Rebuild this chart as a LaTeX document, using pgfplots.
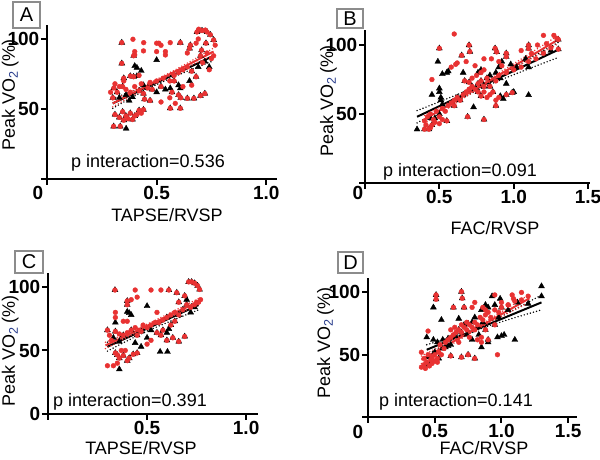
\documentclass[border=0pt]{standalone}
\usepackage{pgfplots}
\pgfplotsset{compat=1.18}
\usepackage{pgfplotstable}
\usepackage{fontspec}
\setmainfont{Liberation Sans}
\definecolor{myred}{RGB}{232,50,50}
\definecolor{subblue}{RGB}{40,60,140}
\definecolor{boxgray}{RGB}{140,140,140}

\pgfplotsset{
  panel/.style={scale only axis, axis lines=left, axis line style={-, line width=2.2pt},
    xmin=0, ymin=0, ytick={0,50,100}, yticklabels={,\textbf{50},\textbf{100}},
    tick style={line width=2pt, black}, major tick length=6pt, tick align=outside,
    ticklabel style={font=\fontsize{19}{19}\selectfont, inner sep=1.5pt},
    clip=false, anchor=south west},
  tri/.style={only marks, mark=triangle*, mark size=3.4pt, black},
  red/.style={only marks, mark=*, mark size=2.4pt, myred},
  bl/.style={black, line width=2pt},
  rl/.style={myred, line width=2pt},
  bd/.style={black, line width=1.6pt, line cap=round, dash pattern=on 0pt off 3.2pt},
  rd/.style={myred, line width=1.6pt, line cap=round, dash pattern=on 0pt off 3.2pt},
}

% ---------------- Panel A data ----------------
\pgfplotstableread{
x y
0.341 97.4
0.608 97.4
0.684 105
0.707 106
0.730 105
0.745 103
0.760 99.3
0.654 95.6
0.650 93.3
0.40 80.7
0.41 79.5
0.43 77.3
0.50 85
0.341 82.6
0.395 88
0.38 73.5
0.395 73
0.41 73.5
0.305 65
0.32 62
0.33 58
0.345 66
0.36 60
0.375 56
0.39 58.5
0.42 63
0.44 61
0.44 67
0.46 65
0.48 64
0.50 62
0.52 66
0.54 64
0.562 64.8
0.608 64.8
0.57 62
0.60 60
0.562 50.5
0.608 50.5
0.64 57.6
0.67 57.6
0.70 59.5
0.72 61
0.66 77
0.69 80
0.70 88
0.72 84
0.74 80
0.68 73
0.65 70
0.705 92
0.725 97
0.31 46
0.33 44
0.345 48
0.36 45
0.38 47
0.40 45
0.42 49
0.44 49.5
0.35 42
0.37 43
0.39 42.5
0.304 37.6
0.334 37.6
0.361 36
0.30 58
0.35 72
0.445 57
0.47 56
0.58 70
0.60 67
0.61 58
}\Atri
\pgfplotstableread{
x y
0.341 97.4
0.392 99.8
0.441 97.4
0.50 97
0.51 97
0.52 95.5
0.562 97.4
0.608 97.4
0.684 105
0.692 107
0.707 106
0.722 106.4
0.730 105
0.745 103
0.760 99.3
0.767 95.6
0.654 95.6
0.650 93.3
0.40 91
0.40 88.6
0.44 91.5
0.50 91
0.54 91
0.54 88.6
0.341 82.6
0.395 88
0.38 73.5
0.395 73
0.42 74
0.305 65
0.31 68
0.32 62
0.33 66
0.345 66
0.35 70
0.36 64
0.38 62
0.40 66
0.42 63
0.43 68
0.44 61
0.46 65
0.47 69
0.48 64
0.50 70
0.52 66
0.53 72
0.56 70
0.57 62
0.58 74
0.60 76
0.60 60
0.62 78
0.64 57.6
0.64 80
0.66 77
0.67 57.6
0.68 73
0.70 59.5
0.70 88
0.71 83
0.72 61
0.73 90
0.75 86
0.76 88
0.705 92
0.725 97
0.68 97
0.69 100
0.562 50.5
0.608 50.5
0.52 55
0.56 58
0.585 54
0.31 46
0.33 44
0.345 48
0.36 45
0.38 47
0.40 45
0.42 49
0.44 49.5
0.35 42
0.37 43
0.39 42.5
0.41 46
0.43 47
0.304 37.6
0.334 37.6
0.30 58
0.29 62
0.35 72
0.445 57
0.47 56
0.58 70
0.61 58
0.66 67
0.62 66
0.74 78
0.64 90
}\Ared

% ---------------- Panel B data ----------------
\pgfplotstableread{
x y
0.50 97.6
0.70 99.9
0.705 95.2
0.875 97.6
0.885 95
0.95 94
0.95 91.5
1.10 99.9
1.10 97.5
1.30 104
1.30 97
0.35 38.9
0.45 64
0.49 88
0.52 79
0.55 80
0.56 81
0.50 68.6
0.50 66
0.51 62
0.51 60
0.52 57
0.66 80
0.65 92.5
0.76 80
0.78 82
0.84 78
0.88 80
0.91 76
0.78 63
0.76 66
0.95 64
0.99 65.5
1.10 84
1.10 63.8
0.93 61
0.91 63
0.44 47
0.47 47
0.50 50
0.40 39
0.43 39
0.45 42
0.55 45
0.60 56
0.69 48
0.80 46
0.88 56
0.73 55
0.67 74
0.70 73
0.72 70
0.74 68
0.76 72
0.78 74
0.80 70
0.82 76
0.84 70
0.86 66
0.58 58
0.62 62
0.64 60
0.66 64
0.90 84
0.92 88
0.98 86
1.02 84
1.08 90
1.20 94
1.25 96
0.95 72
1.00 66
}\Btri
\pgfplotstableread{
x y
0.60 108
0.50 97.6
0.70 99.9
0.705 95.2
0.875 97.6
0.885 95
0.95 94
0.95 91.5
1.10 99.9
1.10 97.5
1.20 107
1.27 107
1.29 104.8
1.30 104
1.30 97
1.22 101
1.16 100
1.05 96
1.12 94
0.45 75
0.58 84
0.61 86
0.68 88
0.74 85
0.80 90
0.85 90
0.90 88
0.92 85
0.65 92.5
0.62 87
0.40 45
0.42 48
0.44 50
0.46 46
0.48 52
0.50 48
0.52 54
0.54 52
0.56 56
0.58 58
0.60 60
0.62 62
0.64 60
0.66 64
0.68 66
0.70 68
0.72 70
0.74 68
0.76 72
0.78 74
0.80 70
0.82 76
0.84 70
0.86 66
0.88 74
0.90 78
0.95 80
1.00 82
1.05 84
1.10 88
1.15 90
1.20 94
1.25 98
0.67 74
0.70 73
0.76 66
0.78 63
0.80 66
0.82 62
0.84 64
0.88 60
0.90 62
0.40 39
0.43 39
0.45 42
0.55 45
0.60 56
0.69 48
0.80 46
0.88 56
0.95 64
0.99 65.5
0.47 44
0.50 43
0.52 46
0.44 40
0.41 42
0.78 80
0.80 82
0.75 78
0.72 76
}\Bred

% ---------------- Panel C data ----------------
\pgfplotstableread{
x y
0.338 97.6
0.61 97.6
0.65 95.5
0.71 104
0.725 104
0.74 103
0.755 101
0.765 98
0.40 80.5
0.41 79.5
0.42 78
0.50 85
0.40 89
0.40 86
0.34 65
0.38 62
0.36 57
0.30 66
0.33 60
0.42 66
0.45 62
0.47 65
0.52 66
0.55 64
0.57 62
0.60 64
0.60 58
0.63 60
0.66 57
0.69 61
0.566 49
0.603 49
0.36 35.2
0.35 46.5
0.38 46
0.41 44
0.43 47
0.45 48
0.40 42
0.34 48
0.36 44
0.66 78
0.68 82
0.70 86
0.72 80
0.74 84
0.70 90
0.66 88
0.69 93
0.62 70
0.64 73
0.58 66
0.34 72
0.44 56
0.47 53
0.50 60
0.60 76
0.61 67
}\Ctri
\pgfplotstableread{
x y
0.338 97.6
0.44 97.6
0.52 97.6
0.57 97.6
0.61 97.6
0.65 95.5
0.71 104
0.725 104
0.74 103
0.755 101
0.765 98
0.77 90
0.75 88
0.34 80
0.34 76
0.38 73
0.40 73
0.42 90
0.45 92
0.40 89
0.40 86
0.34 65
0.30 66
0.31 62
0.32 58
0.36 63
0.38 62
0.40 64
0.42 66
0.44 68
0.46 66
0.48 70
0.50 68
0.52 70
0.54 72
0.56 72
0.58 74
0.60 76
0.62 78
0.64 80
0.66 78
0.68 82
0.70 86
0.72 84
0.74 86
0.76 88
0.47 65
0.55 64
0.57 62
0.60 58
0.63 60
0.66 57
0.69 61
0.45 62
0.35 46.5
0.38 46
0.41 44
0.43 47
0.45 48
0.40 42
0.34 48
0.36 44
0.37 50
0.39 50
0.30 38
0.33 38
0.35 40
0.62 70
0.64 73
0.58 66
0.55 80
0.52 58
0.50 55
0.69 93
0.66 88
}\Cred

% ---------------- Panel D data ----------------
\pgfplotstableread{
x y
0.51 98
0.51 94.5
0.70 100.6
0.706 95.3
0.44 64
0.49 88
0.55 78
0.49 62
0.52 60
0.56 62
0.60 63
0.62 58
0.58 56
0.65 65
0.70 68
0.68 79
0.75 75
0.78 76
0.80 80
0.82 72
0.85 86
0.88 90
0.90 88
0.95 90
1.00 88
1.05 86
1.12 92
1.20 91
1.30 105
1.30 97
1.10 62
1.00 65
0.97 64
0.90 60
0.85 56
0.80 47
0.75 50
0.70 48
0.62 49
0.90 62
0.95 74
0.98 80
0.72 88
0.64 88
0.93 97
0.99 95
0.60 57
0.53 47
0.47 44
0.45 48
0.44 42
0.50 52
0.56 55
0.68 70
0.72 74
0.74 66
0.78 62
0.83 66
1.02 66
0.86 76
0.88 70
}\Dtri
\pgfplotstableread{
x y
0.51 98
0.51 94.5
0.70 100.6
0.706 95.3
0.86 88
0.88 86
0.95 98
1.08 98
1.09 95
1.15 100
1.05 90
1.00 92
0.80 92
0.78 88
0.64 88
0.72 88
0.45 69
0.40 52
0.40 40
0.42 42
0.44 44
0.42 47
0.45 50
0.47 46
0.48 48
0.50 45
0.50 50
0.52 47
0.53 52
0.55 50
0.43 39
0.46 41
0.48 43
0.52 44
0.57 55
0.54 58
0.58 60
0.60 62
0.62 64
0.64 66
0.66 68
0.68 70
0.70 68
0.72 72
0.74 70
0.76 74
0.78 72
0.80 76
0.82 74
0.84 80
0.86 78
0.88 82
0.90 84
0.92 80
0.95 86
0.98 84
1.00 88
1.05 90
1.10 93
1.15 94
1.20 97
0.62 70
0.65 72
0.70 74
0.74 76
0.80 70
0.85 64
0.88 70
0.90 62
0.95 74
0.80 47
0.75 50
0.70 48
0.62 49
0.97 50
0.85 60
0.82 62
0.76 64
0.68 60
}\Dred

\newcommand{\ylab}{Peak VO\textsubscript{\textcolor{subblue}{2}}\,(\%)}

\begin{document}
\begin{tikzpicture}[x=1pt,y=1pt]
\path[use as bounding box] (0,0) rectangle (600,460);
\tikzset{txt/.style={font=\fontsize{18}{18}\selectfont, inner sep=0pt},
  zero/.style={font=\fontsize{19}{19}\selectfont\bfseries, inner sep=0pt}}

% ===== A =====
\begin{axis}[panel, at={(47pt,281pt)}, width=230pt, height=154pt, xmax=1.049, ymax=110,
  xtick={0,0.5,1}, xticklabels={,\textbf{0.5},\textbf{1.0}}]
\addplot[tri] table {\Atri};
\addplot[red] table {\Ared};
\addplot[bd, smooth] coordinates {(0.30,57.5) (0.45,66.6) (0.60,78.0) (0.76,91.5)};
\addplot[bd, smooth] coordinates {(0.30,50.5) (0.45,63.6) (0.60,74.4) (0.76,84.5)};
\addplot[bl] coordinates {(0.30,54) (0.76,88)};
\addplot[rd, smooth] coordinates {(0.30,56.5) (0.45,67.3) (0.60,79.3) (0.76,93.5)};
\addplot[rd, smooth] coordinates {(0.30,51.5) (0.45,64.7) (0.60,76.9) (0.76,88.5)};
\addplot[rl] coordinates {(0.30,54) (0.76,91)};
\end{axis}

% ===== B =====
\begin{axis}[panel, at={(365pt,277pt)}, width=225pt, height=153pt, xmax=1.513, ymax=110.9,
  xtick={0,0.5,1,1.5}, xticklabels={,\textbf{0.5},\textbf{1.0},\textbf{1.5}}]
\addplot[tri] table {\Btri};
\addplot[red] table {\Bred};
\addplot[bd, smooth] coordinates {(0.35,52.5) (0.8,72.5) (1.3,102)};
\addplot[bd, smooth] coordinates {(0.35,43.5) (0.8,69.5) (1.3,91)};
\addplot[bl] coordinates {(0.35,48) (1.3,96.6)};
\addplot[rd, smooth] coordinates {(0.40,49) (0.8,73) (1.3,107)};
\addplot[rd, smooth] coordinates {(0.40,43) (0.8,70.6) (1.3,101)};
\addplot[rl] coordinates {(0.40,46) (1.3,104)};
\end{axis}

% ===== C =====
\begin{axis}[panel, at={(48pt,46pt)}, width=210pt, height=141pt, xmax=1.06, ymax=111,
  xtick={0,0.5,1}, xticklabels={,\textbf{0.5},\textbf{1.0}}, yticklabels={\textbf{0},\textbf{50},\textbf{100}}]
\addplot[tri] table {\Ctri};
\addplot[red] table {\Cred};
\addplot[bd, smooth] coordinates {(0.30,56.5) (0.5,68.3) (0.76,89.5)};
\addplot[bd, smooth] coordinates {(0.30,49.5) (0.5,65.3) (0.76,82)};
\addplot[bl] coordinates {(0.30,53) (0.76,85.8)};
\addplot[rd, smooth] coordinates {(0.29,56.5) (0.5,70.7) (0.77,91.7)};
\addplot[rd, smooth] coordinates {(0.29,51.5) (0.5,68.1) (0.77,86.7)};
\addplot[rl] coordinates {(0.29,54) (0.77,89.2)};
\end{axis}

% ===== D =====
\begin{axis}[panel, at={(368pt,43pt)}, width=209pt, height=139pt, xmax=1.566, ymax=111.6,
  xtick={0,0.5,1,1.5}, xticklabels={,\textbf{0.5},\textbf{1.0},\textbf{1.5}}]
\addplot[tri] table {\Dtri};
\addplot[red] table {\Dred};
\addplot[bd, smooth] coordinates {(0.44,58) (0.85,73) (1.3,98)};
\addplot[bd, smooth] coordinates {(0.44,50) (0.85,71) (1.3,86)};
\addplot[bl] coordinates {(0.44,54) (1.3,92)};
\addplot[rd, smooth] coordinates {(0.40,49) (0.8,71.5) (1.21,98.5)};
\addplot[rd, smooth] coordinates {(0.40,43) (0.8,69.3) (1.21,92)};
\addplot[rl] coordinates {(0.40,46) (1.21,95.3)};
\end{axis}

% corner zeros
\node[zero] at (38,267) {0};
\node[zero] at (358,267) {0};
\node[zero] at (358,28) {0};

% p interaction
\node[txt] at (148,297) {p interaction=0.536};
\node[txt] at (460,288) {p interaction=0.091};
\node[txt] at (130,58) {p interaction=0.391};
\node[txt] at (456,58) {p interaction=0.141};

% x labels
\node[txt] at (167,245) {TAPSE/RVSP};
\node[txt] at (495,232) {FAC/RVSP};
\node[txt] at (141,12) {TAPSE/RVSP};
\node[txt] at (484,12) {FAC/RVSP};

% y labels
\node[txt, rotate=90, anchor=base] at (15,365) {\ylab};
\node[txt, rotate=90, anchor=base] at (333,359) {\ylab};
\node[txt, rotate=90, anchor=base] at (15,109) {\ylab};
\node[txt, rotate=90, anchor=base] at (330,117) {\ylab};

% panel letter boxes
\draw[boxgray, line width=1.2pt] (13,432) rectangle (40,458);
\node[font=\fontsize{20}{20}\selectfont] at (26.5,445) {A};
\draw[boxgray, line width=1.2pt] (337,432) rectangle (363,451);
\node[font=\fontsize{20}{20}\selectfont] at (350,441.5) {B};
\draw[boxgray, line width=1.2pt] (15,187) rectangle (43,209);
\node[font=\fontsize{20}{20}\selectfont] at (29,198) {C};
\draw[boxgray, line width=1.2pt] (338,187) rectangle (363,208);
\node[font=\fontsize{20}{20}\selectfont] at (350.5,197.5) {D};
\end{tikzpicture}
\end{document}
